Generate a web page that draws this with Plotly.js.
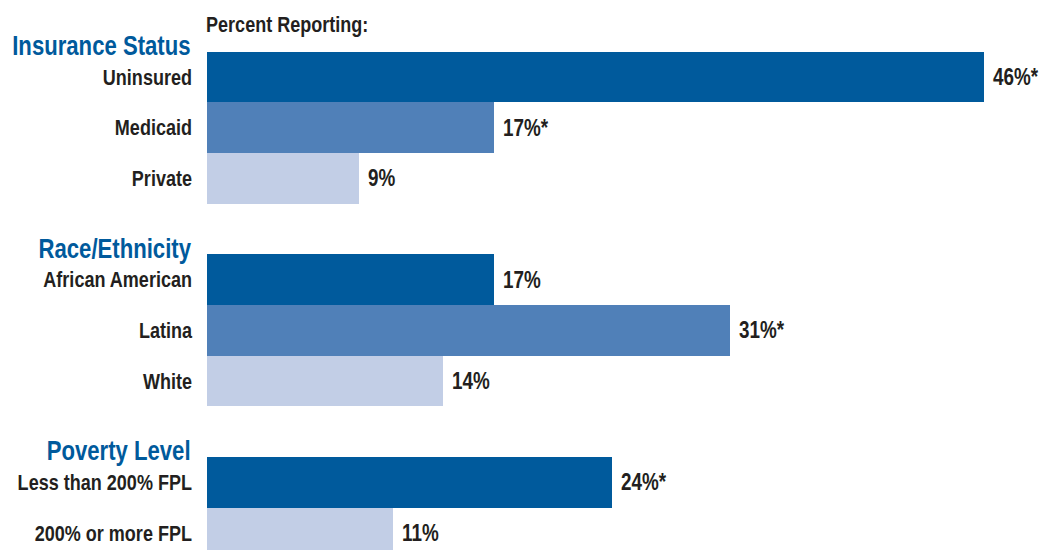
<!DOCTYPE html>
<html>
<head>
<meta charset="utf-8">
<script src="https://cdn.plot.ly/plotly-3.0.1.min.js"></script>
<style>html,body{margin:0;padding:0;background:#fff;}#chart{width:1041px;height:550px;}</style>
</head>
<body>
<div id="chart"></div>
<script>
// Data
var categories = [" ", "Uninsured", "Medicaid", "Private", "  ", "African American", "Latina", "White", "   ", "Less than 200% FPL", "200% or more FPL"];
var values = [null, 46, 17, 9, null, 17, 31, 14, null, 24, 11];
var valueLabels = ["", "46%*", "17%*", "9%", "", "17%", "31%*", "14%", "", "24%*", "11%"];
var shadeIndex = [0, 0, 1, 2, 0, 0, 1, 2, 0, 0, 2];
var groupTitles = ["Insurance Status", "Race/Ethnicity", "Poverty Level"];
var groupFirst = ["Uninsured", "African American", "Less than 200% FPL"];
var axisCaption = "Percent Reporting:";

var palette = ["#005A9C", "#5080B8", "#C2CEE6"];
var FONT = "'Liberation Sans', Arial, sans-serif";
var TXT = "#231F20";
var SQUEEZE = 0.82; // condensed look

var trace = {
  type: "bar",
  orientation: "h",
  y: categories,
  x: values,
  marker: { color: shadeIndex.map(function (i) { return palette[i]; }), line: { width: 0 } },
  hoverinfo: "none"
};

var annotations = [];
categories.forEach(function (c, i) {
  if (values[i] === null) return;
  annotations.push({
    xref: "x", yref: "y", x: values[i], y: c,
    xanchor: "left", yanchor: "middle", xshift: 7, yshift: 0,
    text: "<b>" + valueLabels[i] + "</b>", showarrow: false,
    font: { family: FONT, size: 23, color: TXT }
  });
});
groupTitles.forEach(function (t, i) {
  annotations.push({
    xref: "paper", yref: "y", x: 0, y: groupFirst[i],
    xanchor: "right", yanchor: "middle", xshift: -14, yshift: 31,
    text: "<b>" + t + "</b>", showarrow: false,
    font: { family: FONT, size: 27, color: "#005A9C" }
  });
});
annotations.push({
  xref: "paper", yref: "paper", x: 0, y: 1, xanchor: "left", yanchor: "top",
  xshift: -3, yshift: -10,
  text: "<b>" + axisCaption + "</b>", showarrow: false,
  font: { family: FONT, size: 22, color: TXT }
});

var layout = {
  width: 1041, height: 550,
  margin: { l: 207, r: 0, t: 0, b: 0, pad: 0 },
  paper_bgcolor: "#fff", plot_bgcolor: "#fff",
  showlegend: false,
  bargap: 0,
  xaxis: { range: [0, 49.4], visible: false, fixedrange: true },
  yaxis: {
    type: "category",
    categoryorder: "array", categoryarray: categories,
    range: [10.334, -0.521],
    showgrid: false, zeroline: false, showline: false,
    ticks: "", ticklabelstandoff: 14,
    tickfont: { family: FONT, size: 22, color: TXT, weight: "bold" }
  },
  annotations: annotations
};

function squeeze(el, side) {
  var bb = el.getBBox();
  var ax = side === "right" ? bb.x + bb.width : bb.x;
  var t = el.getAttribute("transform") || "";
  el.setAttribute("transform", t + " translate(" + ax + ",0) scale(" + SQUEEZE + ",1) translate(" + (-ax) + ",0)");
}

Plotly.newPlot("chart", [trace], layout, { staticPlot: true, displayModeBar: false }).then(function (gd) {
  gd.querySelectorAll(".ytick text").forEach(function (el) { squeeze(el, "right"); });
  var anns = gd.querySelectorAll(".annotation");
  anns.forEach(function (g, i) {
    var a = layout.annotations[i];
    var txt = g.querySelector("text.annotation-text");
    if (txt && a) squeeze(txt, a.xanchor === "right" ? "right" : "left");
  });
});
</script>
</body>
</html>
